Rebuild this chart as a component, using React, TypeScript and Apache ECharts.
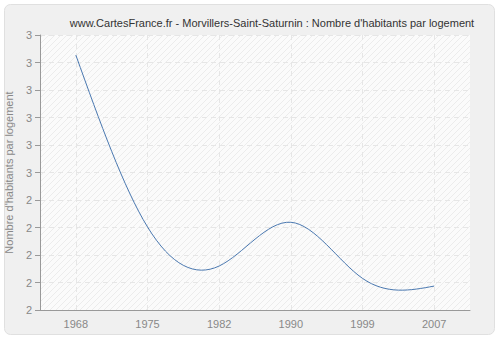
import React, { useEffect, useRef } from "react";
import * as echarts from "echarts";

const categories = ["1968", "1975", "1982", "1990", "1999", "2007"];
const values = [2.927, 2.302, 2.16, 2.319, 2.115, 2.087];
const yTickMin = 2;
const yTickMax = 3;
const yTickStep = 0.1;
const titleText = "www.CartesFrance.fr - Morvillers-Saint-Saturnin : Nombre d'habitants par logement";
const yAxisName = "Nombre d'habitants par logement";

function makeHatch(): any {
  const c = document.createElement("canvas");
  c.width = 6;
  c.height = 6;
  const ctx = c.getContext("2d");
  if (!ctx) return "#f9f9f9";
  ctx.fillStyle = "#fbfbfb";
  ctx.fillRect(0, 0, 6, 6);
  ctx.strokeStyle = "#ececec";
  ctx.lineWidth = 1;
  ctx.beginPath();
  ctx.moveTo(-1, 7);
  ctx.lineTo(7, -1);
  ctx.moveTo(-1, 1);
  ctx.lineTo(1, -1);
  ctx.moveTo(5, 7);
  ctx.lineTo(7, 5);
  ctx.stroke();
  return { image: c.toDataURL(), repeat: "repeat" };
}

// natural cubic spline through screen points
function splinePath(pts: number[][]): string {
  const n = pts.length;
  if (n < 2) return "";
  const xs = pts.map((p) => p[0]);
  const ys = pts.map((p) => p[1]);
  const h: number[] = [];
  for (let i = 0; i < n - 1; i++) h.push(xs[i + 1] - xs[i]);
  const M = new Array(n).fill(0);
  if (n > 2) {
    const a: number[] = [], b: number[] = [], cc: number[] = [], d: number[] = [];
    for (let i = 1; i < n - 1; i++) {
      a.push(h[i - 1]);
      b.push(2 * (h[i - 1] + h[i]));
      cc.push(h[i]);
      d.push(6 * ((ys[i + 1] - ys[i]) / h[i] - (ys[i] - ys[i - 1]) / h[i - 1]));
    }
    const m = b.length;
    for (let i = 1; i < m; i++) {
      const w = a[i] / b[i - 1];
      b[i] -= w * cc[i - 1];
      d[i] -= w * d[i - 1];
    }
    const sol = new Array(m).fill(0);
    sol[m - 1] = d[m - 1] / b[m - 1];
    for (let i = m - 2; i >= 0; i--) sol[i] = (d[i] - cc[i] * sol[i + 1]) / b[i];
    for (let i = 0; i < m; i++) M[i + 1] = sol[i];
  }
  let path = `M${xs[0]},${ys[0]}`;
  for (let i = 0; i < n - 1; i++) {
    const hi = h[i];
    const slope = (ys[i + 1] - ys[i]) / hi;
    const d0 = slope - (hi * (2 * M[i] + M[i + 1])) / 6;
    const d1 = slope + (hi * (M[i] + 2 * M[i + 1])) / 6;
    const c1x = xs[i] + hi / 3, c1y = ys[i] + (d0 * hi) / 3;
    const c2x = xs[i + 1] - hi / 3, c2y = ys[i + 1] - (d1 * hi) / 3;
    path += ` C${c1x},${c1y} ${c2x},${c2y} ${xs[i + 1]},${ys[i + 1]}`;
  }
  return path;
}

export default function App() {
  const ref = useRef<HTMLDivElement>(null);
  useEffect(() => {
    if (!ref.current) return;
    const chart = echarts.init(ref.current, null, { renderer: "svg" });
    chart.setOption({
      animation: false,
      backgroundColor: "#ffffff",
      graphic: [
        {
          type: "rect",
          shape: { x: 4.5, y: 4.5, width: 490, height: 330, r: 6 },
          style: { fill: "#f0f0f0", stroke: "#e0e0e0", lineWidth: 1 },
          z: -10,
        },
      ],
      title: {
        text: titleText,
        left: 267,
        top: 12,
        textAlign: "center",
        textStyle: { fontSize: 11, fontWeight: "normal", color: "#333", fontFamily: "Liberation Sans" },
      },
      grid: {
        left: 40,
        right: 30,
        top: 35,
        bottom: 30,
        containLabel: false,
        outerBoundsMode: "none",
        show: true,
        backgroundColor: makeHatch(),
        borderWidth: 0,
      },
      xAxis: {
        type: "category",
        data: categories,
        boundaryGap: true,
        axisLine: { lineStyle: { color: "#999" } },
        axisTick: { alignWithLabel: true, length: 5, lineStyle: { color: "#999" } },
        axisLabel: { color: "#888", fontSize: 11, fontFamily: "Liberation Sans", margin: 8 },
        splitLine: { show: false },
      },
      yAxis: {
        type: "value",
        min: yTickMin,
        max: yTickMax,
        interval: yTickStep,
        name: yAxisName,
        nameLocation: "middle",
        nameGap: 21,
        nameTextStyle: { color: "#888", fontSize: 11, fontFamily: "Liberation Sans" },
        axisLine: { show: true, lineStyle: { color: "#999" } },
        axisTick: { show: true, length: 5, lineStyle: { color: "#999" } },
        axisLabel: {
          color: "#888",
          fontSize: 11,
          fontFamily: "Liberation Sans",
          margin: 8,
          formatter: (v: number) => String(Math.round(v)),
        },
        splitLine: { show: true, lineStyle: { color: "#e6e6e6", type: [5, 4] } },
      },
      series: [
        {
          type: "line",
          data: values,
          symbol: "none",
          lineStyle: { opacity: 0 },
          silent: true,
          markLine: {
            silent: true,
            symbol: "none",
            label: { show: false },
            lineStyle: { color: "#e6e6e6", type: [5, 4], width: 1 },
            data: categories.map((c) => ({ xAxis: c })),
          },
        },
        {
          type: "custom",
          data: values.map((v, i) => [i, v]),
          renderItem: (params: any, api: any) => {
            if (params.dataIndex !== 0) return null;
            const pts = values.map((v, i) => api.coord([i, v]));
            return {
              type: "path",
              shape: { pathData: splinePath(pts) },
              style: { fill: "none", stroke: "#4a78b0", lineWidth: 1 },
            };
          },
          z: 5,
        },
      ],
    });
    return () => chart.dispose();
  }, []);
  return <div ref={ref} style={{ position: "fixed", left: 0, top: 0, width: 500, height: 340 }} />;
}
